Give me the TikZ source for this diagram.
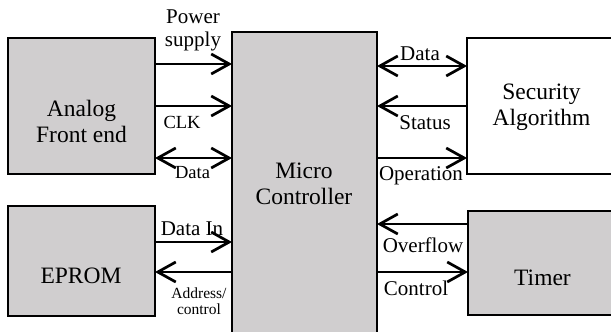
\documentclass[tikz,border=0pt]{standalone}
\usepackage{fontspec}
\setmainfont{Liberation Serif}
\usetikzlibrary{arrows.meta}
\definecolor{boxgray}{RGB}{208,206,207}
\tikzset{
  blk/.style={draw=black, line width=2.7pt, inner sep=0pt, outer sep=0pt},
  grayblk/.style={blk, fill=boxgray},
  whiteblk/.style={blk, fill=white},
  boxtext/.style={align=center, inner sep=0pt, font=\fontsize{23.5}{26}\selectfont},
  lbl/.style={align=center, inner sep=0pt, font=\fontsize{21}{23}\selectfont},
  smlbl/.style={align=center, inner sep=0pt, font=\fontsize{18.5}{20}\selectfont},
  tinylbl/.style={align=center, inner sep=0pt, font=\fontsize{15.5}{16}\selectfont},
  conn/.style={line width=2.7pt, arrows={-}},
  barb/.tip={Straight Barb[length=18pt,width=20pt,line width=2.7pt]},
}
\begin{document}
\begin{tikzpicture}[x=1pt,y=-1pt]
\useasboundingbox (0,0) rectangle (611,332);
\clip (0,0) rectangle (611,332);
\fill[white] (0,0) rectangle (611,332);
% blocks
\node[grayblk, minimum width=147pt, minimum height=136pt] (afe) at (81.5,106) {};
\node[grayblk, minimum width=147pt, minimum height=110pt] (eprom) at (81.5,261) {};
\node[grayblk, minimum width=145pt, minimum height=313pt] (mc) at (304.5,188.5) {};
\node[whiteblk, minimum width=158pt, minimum height=136pt] (sec) at (546,106) {};
\node[grayblk, minimum width=157pt, minimum height=104pt] (timer) at (546.5,263) {};
% block texts
\node[boxtext] (afet) at (81.5,121) {Analog\\Front end};
\node[boxtext] (epromt) at (81,276) {EPROM};
\node[boxtext] (mct) at (304,184) {Micro\\Controller};
\node[boxtext] (sect) at (541.5,107) {Security\\Algorithm};
\node[boxtext] (timert) at (542.5,277.5) {Timer};
% left connectors
\draw[conn, -barb] (afe.east |- 0,64) -- (mc.west |- 0,64);
\draw[conn, -barb] (afe.east |- 0,106) -- (mc.west |- 0,106);
\draw[conn, barb-barb] (afe.east |- 0,158) -- (mc.west |- 0,158);
\draw[conn, -barb] (eprom.east |- 0,242) -- (mc.west |- 0,242);
\draw[conn, barb-] (eprom.east |- 0,272) -- (mc.west |- 0,272);
% right connectors
\draw[conn, barb-barb] (mc.east |- 0,66) -- (sec.west |- 0,66);
\draw[conn, barb-] (mc.east |- 0,106) -- (sec.west |- 0,106);
\draw[conn, -barb] (mc.east |- 0,158) -- (sec.west |- 0,158);
\draw[conn, barb-] (mc.east |- 0,224) -- (timer.west |- 0,224);
\draw[conn, -barb] (mc.east |- 0,272) -- (timer.west |- 0,272);
% labels
\node[lbl] (lpow) at (193,30) {Power\\supply};
\node[smlbl] (lclk) at (182,122.5) {CLK};
\node[smlbl] (ldata) at (192.5,172.5) {Data};
\node[lbl] (ldin) at (192,229) {Data In};
\node[tinylbl] (laddr) at (199,301) {Address/\\control};
\node[lbl] (rdata) at (420,54) {Data};
\node[lbl] (rstat) at (425,122.5) {Status};
\node[lbl] (rop) at (421,176) {Operation};
\node[lbl] (rover) at (423,245) {Overflow};
\node[lbl] (rctl) at (416,288.5) {Control};
\end{tikzpicture}
\end{document}
